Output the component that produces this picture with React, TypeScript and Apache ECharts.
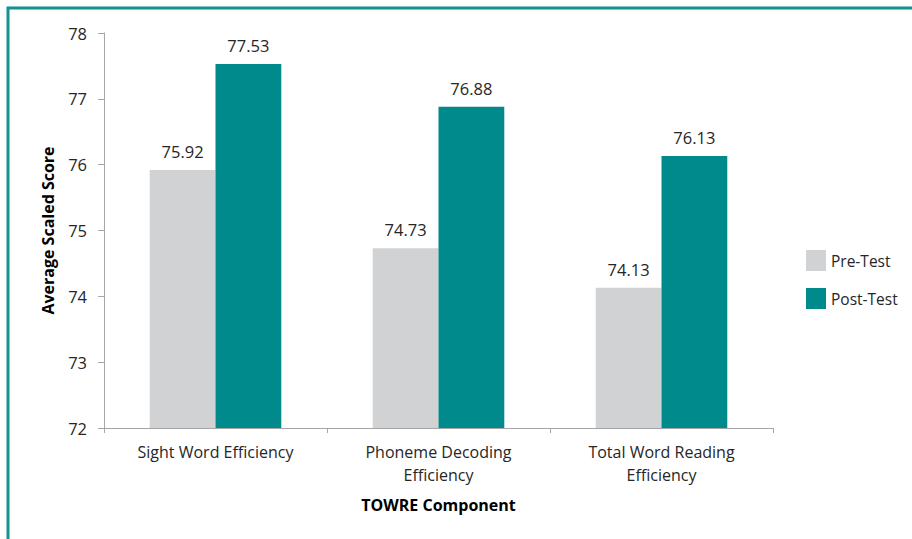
import React, { useEffect, useRef } from "react";
import * as echarts from "echarts";

const categories = ["Sight Word Efficiency", "Phoneme Decoding\nEfficiency", "Total Word Reading\nEfficiency"];
const preTest = [75.92, 74.73, 74.13];
const postTest = [77.53, 76.88, 76.13];
const seriesNames = ["Pre-Test", "Post-Test"];

const FONT = "Open Sans";
const TXT = "#262626";

export default function App() {
  const ref = useRef<HTMLDivElement>(null);
  useEffect(() => {
    document.body.style.margin = "0";
    const chart = echarts.init(ref.current!, null, { renderer: "svg" });
    const label = {
      show: true,
      position: "top" as const,
      distance: 10,
      formatter: (p: any) => p.value.toFixed(2),
      fontFamily: FONT,
      fontSize: 16.5,
      color: TXT,
    };
    chart.setOption({
      animation: false,
      backgroundColor: "#ffffff",
      textStyle: { fontFamily: FONT },
      grid: { left: 104, right: 139, top: 33, bottom: 111, containLabel: false },
      legend: {
        orient: "vertical",
        left: 801,
        top: 245,
        itemWidth: 20,
        itemHeight: 21,
        itemGap: 17,
        icon: "rect",
        textStyle: { fontFamily: FONT, fontSize: 15.5, color: TXT },
        data: seriesNames,
      },
      xAxis: {
        type: "category",
        data: categories,
        name: "TOWRE Component",
        nameLocation: "middle",
        nameGap: 69,
        nameTextStyle: { fontFamily: FONT, fontSize: 16, fontWeight: "bold", color: "#000" },
        axisLine: { lineStyle: { color: "#a6a6a6", width: 1 } },
        axisTick: { show: true, length: 5, lineStyle: { color: "#a6a6a6" } },
        axisLabel: { margin: 12, fontFamily: FONT, fontSize: 16, color: TXT, lineHeight: 23 },
      },
      yAxis: {
        type: "value",
        min: 72,
        max: 78,
        interval: 1,
        name: "Average Scaled Score",
        nameLocation: "middle",
        nameGap: 48,
        nameTextStyle: { fontFamily: FONT, fontSize: 16, fontWeight: "bold", color: "#000" },
        axisLine: { show: true, lineStyle: { color: "#a6a6a6", width: 1 } },
        axisTick: { show: true, length: 6, lineStyle: { color: "#a6a6a6" } },
        splitLine: { show: false },
        axisLabel: { margin: 17, fontFamily: FONT, fontSize: 16.5, color: TXT },
      },
      series: [
        {
          name: seriesNames[0],
          type: "bar",
          data: preTest,
          barGap: "0%",
          barCategoryGap: "41%",
          itemStyle: { color: "#d1d2d4" },
          label,
        },
        {
          name: seriesNames[1],
          type: "bar",
          data: postTest,
          barGap: "0%",
          barCategoryGap: "41%",
          itemStyle: { color: "#008a8c" },
          label,
        },
      ],
      graphic: [
        {
          type: "rect",
          shape: { x: 8, y: 8, width: 1200, height: 1200 },
          style: { fill: "none", stroke: "#149292", lineWidth: 3 },
          silent: true,
        },
      ],
    });
    return () => chart.dispose();
  }, []);
  return <div ref={ref} style={{ width: 912, height: 539 }} />;
}
